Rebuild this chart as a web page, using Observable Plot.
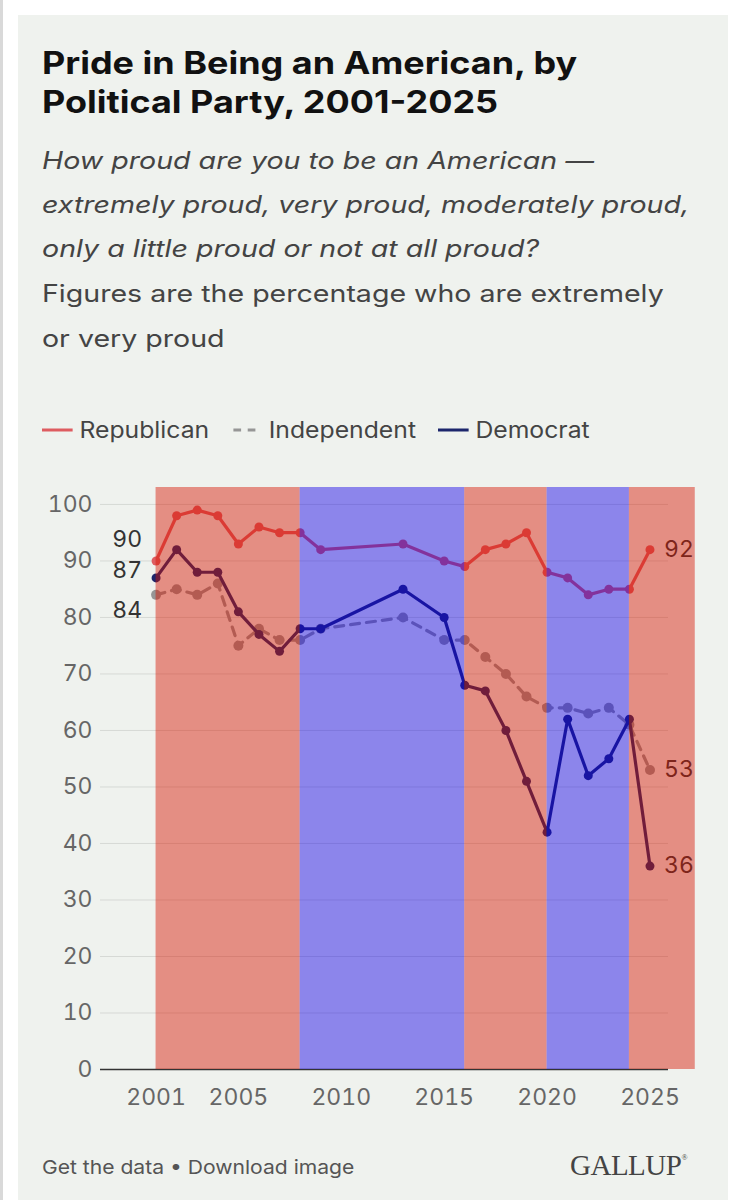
<!DOCTYPE html>
<html><head><meta charset="utf-8">
<script src="https://cdn.jsdelivr.net/npm/d3@7"></script>
<script src="https://cdn.jsdelivr.net/npm/@observablehq/plot@0.6"></script>
<style>
html,body{margin:0;padding:0;background:#fff;}
body{position:relative;width:736px;height:1200px;overflow:hidden;}
#edge{position:absolute;left:0;top:0;width:3px;height:1200px;background:#d9d9d9;}
#panel{position:absolute;left:18px;top:15px;width:710px;height:1200px;background:#eff2ee;}
.t{position:absolute;left:42px;white-space:nowrap;transform-origin:0 0;}
#title{top:43px;font-family:Inter,sans-serif;font-weight:700;font-size:31px;line-height:39px;color:#111;transform:scaleX(1.16);}
#sub{top:139px;font-family:Inter,sans-serif;font-style:italic;font-size:24px;line-height:44px;color:#444;transform:scaleX(1.19);}
#sub2{top:271px;font-family:Inter,sans-serif;font-size:24px;line-height:45px;color:#444;transform:scaleX(1.19);}
#legend{top:416px;font-family:Inter,sans-serif;font-size:22.5px;color:#444;display:flex;align-items:center;transform:scaleX(1.1);}
#legend .item{display:flex;align-items:center;margin-right:20px;}
#legend svg{margin-right:6px;}
#chart{position:absolute;left:0;top:475px;}
#foot{top:1156px;font-family:Inter,sans-serif;font-size:19px;color:#555;transform:scaleX(1.11);}
#logo{position:absolute;left:570px;top:1149px;font-family:"Liberation Serif",serif;font-size:29px;color:#444;letter-spacing:-0.5px;}
#logo sup{font-size:8px;vertical-align:top;position:relative;top:4px;}
</style>
</head><body>
<div id="edge"></div>
<div id="panel"></div>
<div class="t" id="title">Pride in Being an American, by<br>Political Party, 2001-2025</div>
<div class="t" id="sub">How proud are you to be an American —<br>extremely proud, very proud, moderately proud,<br>only a little proud or not at all proud?</div>
<div class="t" id="sub2">Figures are the percentage who are extremely<br>or very proud</div>
<div class="t" id="legend"></div>
<div id="chart"></div>
<div class="t" id="foot">Get the data • Download image</div>
<div id="logo">GALLUP<sup>®</sup></div>
<script>
// ---- data ----
const years = [2001,2002,2003,2004,2005,2006,2007,2008,2009,2013,2015,2016,2017,2018,2019,2020,2021,2022,2023,2024,2025];
const republican  = [90,98,99,98,93,96,95,95,92,93,90,89,92,93,95,88,87,84,85,85,92];
const independent = [84,85,84,86,75,78,76,76,78,80,76,76,73,70,66,64,64,63,64,61,53];
const democrat    = [87,92,88,88,81,77,74,78,78,85,80,68,67,60,51,42,62,52,55,62,36];
const seriesNames = ["Republican","Independent","Democrat"];
// presidential-party background bands
const bandStart = [2001,2008,2016,2020,2024];
const bandEnd   = [2008,2016,2020,2024,2027.2];
const bandParty = ["R","D","R","D","R"];
const xTicks = [2001,2005,2010,2015,2020,2025];
const yTicks = [0,10,20,30,40,50,60,70,80,90,100];

// ---- styles ----
const colR = "rgb(222,92,96)";
const colI = "rgb(150,150,150)";
const colD = "rgb(28,38,108)";
const bandFill = {R:"rgb(215,20,0)", D:"rgb(20,0,230)"};

const rows = (vals) => years.map((y,i)=>({year:y, value:vals[i]}));
const R = rows(republican), I = rows(independent), D = rows(democrat);
const bands = bandStart.map((s,i)=>({x1:s, x2:bandEnd[i], party:bandParty[i]}));
const first = (arr)=>[arr[0]];
const last = (arr)=>[arr[arr.length-1]];

// legend
const leg = document.getElementById("legend");
const sw = {
  Republican:`<svg width="28" height="6"><line x1="0" x2="28" y1="3" y2="3" stroke="${colR}" stroke-width="3"/></svg>`,
  Independent:`<svg width="28" height="6"><line x1="2" x2="28" y1="3" y2="3" stroke="${colI}" stroke-width="3" stroke-dasharray="7,6"/></svg>`,
  Democrat:`<svg width="28" height="6"><line x1="0" x2="28" y1="3" y2="3" stroke="${colD}" stroke-width="3"/></svg>`
};
leg.innerHTML = seriesNames.map(n=>`<span class="item">${sw[n]}${n}</span>`).join("");

const chart = Plot.plot({
  width: 736, height: 645,
  marginLeft: 100, marginRight: 68, marginTop: 12, marginBottom: 51,
  style: {background:"transparent", fontFamily:"Inter, sans-serif", overflow:"visible"},
  x: {domain:[1998.3, 2025.9]},
  y: {domain:[0, 103]},
  marks: [
    Plot.ruleY(yTicks.filter(d=>d>0), {stroke:"#d6d9d5", strokeWidth:1}),
    Plot.ruleY([0], {stroke:"#333", strokeWidth:1.5}),
    Plot.line(I, {x:"year", y:"value", stroke:colI, strokeWidth:3.2, strokeDasharray:"9,7"}),
    Plot.dot(I, {x:"year", y:"value", r:5, fill:colI}),
    Plot.line(R, {x:"year", y:"value", stroke:colR, strokeWidth:3.2}),
    Plot.dot(R, {x:"year", y:"value", r:4.5, fill:colR}),
    Plot.line(D, {x:"year", y:"value", stroke:colD, strokeWidth:3.2}),
    Plot.dot(D, {x:"year", y:"value", r:4.5, fill:colD}),
    // start labels
    Plot.text(first(R), {x:"year", y:"value", text:d=>d.value, dx:-14, dy:-21, textAnchor:"end", fontSize:23, fill:"#333"}),
    Plot.text(first(D), {x:"year", y:"value", text:d=>d.value, dx:-14, dy:-7, textAnchor:"end", fontSize:23, fill:"#333"}),
    Plot.text(first(I), {x:"year", y:"value", text:d=>d.value, dx:-14, dy:16, textAnchor:"end", fontSize:23, fill:"#333"}),
    // end labels
    Plot.text([...last(R), ...last(I), ...last(D)], {x:"year", y:"value", text:d=>d.value, dx:14, textAnchor:"start", fontSize:23, fill:"#333"}),
    // translucent party bands on top
    Plot.rectY(bands, {x1:"x1", x2:"x2", y1:0, y2:103, fill:d=>bandFill[d.party], fillOpacity:0.45}),
    Plot.axisY({ticks:yTicks, tickSize:0, tickPadding:8, fontSize:23, fill:"#666", label:null}),
    Plot.axisX({ticks:xTicks, tickFormat:d=>String(d), tickSize:0, tickPadding:19, fontSize:23, fill:"#666", label:null})
  ]
});
document.getElementById("chart").appendChild(chart);
</script>
</body></html>
